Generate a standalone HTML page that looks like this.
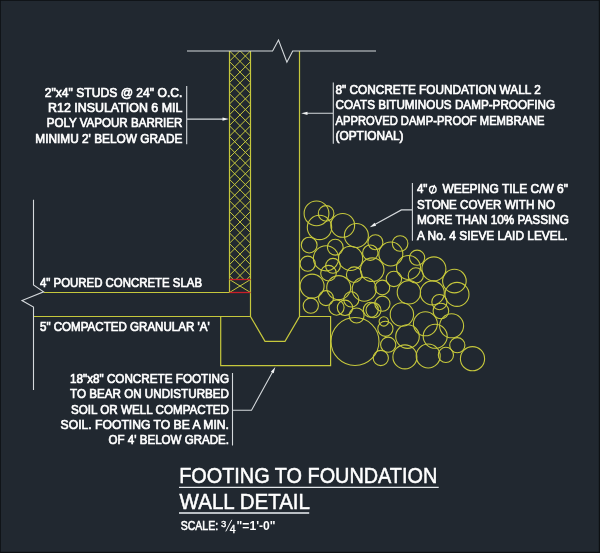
<!DOCTYPE html><html><head><meta charset="utf-8"><title>Footing to Foundation Wall Detail</title>
<style>html,body{margin:0;padding:0;background:#212830;}body{width:600px;height:553px;overflow:hidden;}svg{display:block;will-change:transform;}text{font-family:"Liberation Sans",sans-serif;fill:#ffffff;}</style></head><body>
<svg width="600" height="553" viewBox="0 0 600 553">
<rect x="0" y="0" width="600" height="553" fill="#0d1013"/>
<rect x="0.8" y="0.8" width="598.0" height="551.0" fill="#212830"/>
<defs><clipPath id="hc"><rect x="229.5" y="51" width="21" height="228.5"/></clipPath></defs>
<g clip-path="url(#hc)" stroke="#c6c83c" stroke-width="1" fill="none">
<line x1="224.5" y1="3.07" x2="255.5" y2="34.07"/>
<line x1="224.5" y1="13.78" x2="255.5" y2="44.78"/>
<line x1="224.5" y1="24.48" x2="255.5" y2="55.48"/>
<line x1="224.5" y1="35.19" x2="255.5" y2="66.19"/>
<line x1="224.5" y1="45.89" x2="255.5" y2="76.89"/>
<line x1="224.5" y1="56.60" x2="255.5" y2="87.60"/>
<line x1="224.5" y1="67.31" x2="255.5" y2="98.31"/>
<line x1="224.5" y1="78.01" x2="255.5" y2="109.01"/>
<line x1="224.5" y1="88.72" x2="255.5" y2="119.72"/>
<line x1="224.5" y1="99.42" x2="255.5" y2="130.42"/>
<line x1="224.5" y1="110.13" x2="255.5" y2="141.13"/>
<line x1="224.5" y1="120.84" x2="255.5" y2="151.84"/>
<line x1="224.5" y1="131.54" x2="255.5" y2="162.54"/>
<line x1="224.5" y1="142.25" x2="255.5" y2="173.25"/>
<line x1="224.5" y1="152.95" x2="255.5" y2="183.95"/>
<line x1="224.5" y1="163.66" x2="255.5" y2="194.66"/>
<line x1="224.5" y1="174.37" x2="255.5" y2="205.37"/>
<line x1="224.5" y1="185.07" x2="255.5" y2="216.07"/>
<line x1="224.5" y1="195.78" x2="255.5" y2="226.78"/>
<line x1="224.5" y1="206.48" x2="255.5" y2="237.48"/>
<line x1="224.5" y1="217.19" x2="255.5" y2="248.19"/>
<line x1="224.5" y1="227.90" x2="255.5" y2="258.90"/>
<line x1="224.5" y1="238.60" x2="255.5" y2="269.60"/>
<line x1="224.5" y1="249.31" x2="255.5" y2="280.31"/>
<line x1="224.5" y1="260.01" x2="255.5" y2="291.01"/>
<line x1="224.5" y1="270.72" x2="255.5" y2="301.72"/>
<line x1="224.5" y1="281.43" x2="255.5" y2="312.43"/>
<line x1="224.5" y1="44.78" x2="255.5" y2="13.78"/>
<line x1="224.5" y1="55.48" x2="255.5" y2="24.48"/>
<line x1="224.5" y1="66.19" x2="255.5" y2="35.19"/>
<line x1="224.5" y1="76.89" x2="255.5" y2="45.89"/>
<line x1="224.5" y1="87.60" x2="255.5" y2="56.60"/>
<line x1="224.5" y1="98.31" x2="255.5" y2="67.31"/>
<line x1="224.5" y1="109.01" x2="255.5" y2="78.01"/>
<line x1="224.5" y1="119.72" x2="255.5" y2="88.72"/>
<line x1="224.5" y1="130.42" x2="255.5" y2="99.42"/>
<line x1="224.5" y1="141.13" x2="255.5" y2="110.13"/>
<line x1="224.5" y1="151.84" x2="255.5" y2="120.84"/>
<line x1="224.5" y1="162.54" x2="255.5" y2="131.54"/>
<line x1="224.5" y1="173.25" x2="255.5" y2="142.25"/>
<line x1="224.5" y1="183.95" x2="255.5" y2="152.95"/>
<line x1="224.5" y1="194.66" x2="255.5" y2="163.66"/>
<line x1="224.5" y1="205.37" x2="255.5" y2="174.37"/>
<line x1="224.5" y1="216.07" x2="255.5" y2="185.07"/>
<line x1="224.5" y1="226.78" x2="255.5" y2="195.78"/>
<line x1="224.5" y1="237.48" x2="255.5" y2="206.48"/>
<line x1="224.5" y1="248.19" x2="255.5" y2="217.19"/>
<line x1="224.5" y1="258.90" x2="255.5" y2="227.90"/>
<line x1="224.5" y1="269.60" x2="255.5" y2="238.60"/>
<line x1="224.5" y1="280.31" x2="255.5" y2="249.31"/>
<line x1="224.5" y1="291.01" x2="255.5" y2="260.01"/>
<line x1="224.5" y1="301.72" x2="255.5" y2="270.72"/>
<line x1="224.5" y1="312.43" x2="255.5" y2="281.43"/>
</g>
<g stroke="#c6c83c" stroke-width="1.2" fill="none" stroke-linejoin="miter">
<line x1="229.5" y1="51" x2="229.5" y2="292.5"/>
<path d="M250.5 51 V316.5 L265 341.3 H285 L299.5 316.5 V51"/>
<path d="M43.6 292.5 H229.5"/>
<path d="M33.5 316.5 H250.5"/>
<path d="M220.7 316.5 V365.7 H330.6 V316.5 H299.5"/>
<path d="M229.5 279.5 L250.5 292.5 M250.5 279.5 L229.5 292.5" stroke-width="1"/>
</g>
<g stroke="#c81e28" stroke-width="1.3"><line x1="229.5" y1="279.5" x2="250.5" y2="279.5"/><line x1="229.5" y1="292.5" x2="250.5" y2="292.5"/></g>
<g stroke="#c6c83c" stroke-width="1.1" fill="none">
<circle cx="316.5" cy="213.4" r="12.4"/>
<circle cx="326.1" cy="213.4" r="7.8"/>
<circle cx="319.5" cy="227.4" r="12.2"/>
<circle cx="342.7" cy="225.4" r="11.9"/>
<circle cx="356.4" cy="235.5" r="12.0"/>
<circle cx="309.2" cy="245.1" r="7.9"/>
<circle cx="335.3" cy="247.2" r="7.9"/>
<circle cx="326.0" cy="258.3" r="12.6"/>
<circle cx="350.6" cy="258.4" r="12.1"/>
<circle cx="307.7" cy="263.7" r="7.6"/>
<circle cx="333.0" cy="265.8" r="7.4"/>
<circle cx="328.5" cy="273.2" r="7.8"/>
<circle cx="312.1" cy="286.1" r="12.0"/>
<circle cx="338.7" cy="287.6" r="12.0"/>
<circle cx="354.2" cy="274.7" r="7.8"/>
<circle cx="310.8" cy="305.7" r="7.6"/>
<circle cx="326.0" cy="298.1" r="7.5"/>
<circle cx="336.5" cy="307.6" r="7.6"/>
<circle cx="345.0" cy="307.8" r="7.7"/>
<circle cx="351.3" cy="299.4" r="7.6"/>
<circle cx="375.4" cy="242.2" r="7.5"/>
<circle cx="400.1" cy="243.5" r="7.8"/>
<circle cx="390.8" cy="254.0" r="12.0"/>
<circle cx="370.3" cy="252.7" r="7.7"/>
<circle cx="372.2" cy="269.7" r="11.8"/>
<circle cx="393.9" cy="278.9" r="7.7"/>
<circle cx="408.5" cy="267.5" r="12.0"/>
<circle cx="417.1" cy="257.7" r="7.6"/>
<circle cx="415.8" cy="275.4" r="7.6"/>
<circle cx="382.3" cy="287.5" r="7.4"/>
<circle cx="364.2" cy="289.2" r="12.0"/>
<circle cx="408.9" cy="292.3" r="11.7"/>
<circle cx="401.9" cy="314.5" r="11.7"/>
<circle cx="382.4" cy="303.7" r="7.6"/>
<circle cx="370.8" cy="309.8" r="7.5"/>
<circle cx="373.5" cy="310.3" r="7.5"/>
<circle cx="356.6" cy="315.5" r="7.5"/>
<circle cx="433.9" cy="268.9" r="12.0"/>
<circle cx="454.4" cy="281.1" r="11.8"/>
<circle cx="432.3" cy="292.9" r="12.0"/>
<circle cx="457.0" cy="294.4" r="12.0"/>
<circle cx="439.4" cy="302.1" r="7.6"/>
<circle cx="440.9" cy="311.0" r="7.8"/>
<circle cx="451.6" cy="325.8" r="12.0"/>
<circle cx="425.4" cy="323.8" r="12.0"/>
<circle cx="435.2" cy="336.3" r="12.0"/>
<circle cx="457.3" cy="345.2" r="7.6"/>
<circle cx="445.9" cy="354.9" r="7.6"/>
<circle cx="472.5" cy="358.7" r="12.1"/>
<circle cx="428.2" cy="356.0" r="12.0"/>
<circle cx="407.5" cy="336.6" r="11.8"/>
<circle cx="404.9" cy="356.9" r="12.0"/>
<circle cx="385.4" cy="328.8" r="7.6"/>
<circle cx="383.8" cy="321.4" r="4.7"/>
<circle cx="388.2" cy="344.7" r="7.6"/>
<circle cx="380.8" cy="358.0" r="7.6"/>
<circle cx="355.0" cy="341.5" r="24.0"/>
</g>
<g stroke="#d5d9dc" stroke-width="1.1" fill="none">
<path d="M187 51 H272.6 L278.5 40 L286.9 62.2 L292.7 51 H376"/>
<path d="M33.5 199.8 V285 L43.6 291.8 L22 300.6 L33.5 307 V390"/>
<path d="M186.7 86 V144.2 M186.7 119.1 H224"/>
<path d="M333.3 82.5 V143.8 M333.3 113.3 H306"/>
<path d="M412.4 183 V240.8 M412.4 209.9 H401.4 L373 225.6"/>
<path d="M232.5 373 V445.4 M232.5 410.2 H251.5 L273.5 370.2"/>
</g>
<polygon points="228.80,119.10 222.50,120.70 222.50,117.50" fill="#f0f2f3"/>
<polygon points="301.20,113.30 307.50,111.70 307.50,114.90" fill="#f0f2f3"/>
<polygon points="369.80,227.30 374.55,222.86 376.09,225.66" fill="#f0f2f3"/>
<polygon points="275.30,367.00 273.66,373.29 270.86,371.75" fill="#f0f2f3"/>
<g>
<text x="44.7" y="96.6" font-size="12.9" textLength="137.7" lengthAdjust="spacingAndGlyphs" stroke="#ffffff" stroke-width="0.7">2&quot;x4&quot; STUDS @ 24&quot; O.C.</text>
<text x="48.0" y="111.8" font-size="12.9" textLength="134.4" lengthAdjust="spacingAndGlyphs" stroke="#ffffff" stroke-width="0.7">R12 INSULATION 6 MIL</text>
<text x="46.7" y="127.2" font-size="12.9" textLength="135.7" lengthAdjust="spacingAndGlyphs" stroke="#ffffff" stroke-width="0.7">POLY VAPOUR BARRIER</text>
<text x="35.3" y="142.6" font-size="12.9" textLength="147.1" lengthAdjust="spacingAndGlyphs" stroke="#ffffff" stroke-width="0.7">MINIMU 2&#39; BELOW GRADE</text>
<text x="335.5" y="93.8" font-size="12.9" textLength="205.2" lengthAdjust="spacingAndGlyphs" stroke="#ffffff" stroke-width="0.7">8&quot; CONCRETE FOUNDATION WALL 2</text>
<text x="335.5" y="109.3" font-size="12.9" textLength="219.5" lengthAdjust="spacingAndGlyphs" stroke="#ffffff" stroke-width="0.7">COATS BITUMINOUS DAMP-PROOFING</text>
<text x="335.5" y="124.6" font-size="12.9" textLength="209.0" lengthAdjust="spacingAndGlyphs" stroke="#ffffff" stroke-width="0.7">APPROVED DAMP-PROOF MEMBRANE</text>
<text x="335.5" y="139.8" font-size="12.9" textLength="68.0" lengthAdjust="spacingAndGlyphs" stroke="#ffffff" stroke-width="0.7">(OPTIONAL)</text>
<text x="416.9" y="193.2" font-size="12.9" textLength="10.5" lengthAdjust="spacingAndGlyphs" stroke="#ffffff" stroke-width="0.7">4&quot;</text>
<ellipse cx="432.8" cy="189.6" rx="3.3" ry="3.4" fill="none" stroke="#fff" stroke-width="1.45"/><line x1="434.6" y1="184.9" x2="431.2" y2="194" stroke="#fff" stroke-width="1.2"/>
<text x="442.4" y="193.2" font-size="12.9" textLength="125.6" lengthAdjust="spacingAndGlyphs" stroke="#ffffff" stroke-width="0.7">WEEPING TILE C/W 6&quot;</text>
<text x="417.0" y="208.8" font-size="12.9" textLength="138.0" lengthAdjust="spacingAndGlyphs" stroke="#ffffff" stroke-width="0.7">STONE COVER WITH NO</text>
<text x="417.0" y="224.1" font-size="12.9" textLength="152.0" lengthAdjust="spacingAndGlyphs" stroke="#ffffff" stroke-width="0.7">MORE THAN 10% PASSING</text>
<text x="417.0" y="240.2" font-size="12.9" textLength="150.6" lengthAdjust="spacingAndGlyphs" stroke="#ffffff" stroke-width="0.7">A No. 4 SIEVE LAID LEVEL.</text>
<text x="40.0" y="286.5" font-size="12.9" textLength="162.0" lengthAdjust="spacingAndGlyphs" stroke="#ffffff" stroke-width="0.7">4&quot; POURED CONCRETE SLAB</text>
<text x="40.0" y="331.0" font-size="12.9" textLength="169.7" lengthAdjust="spacingAndGlyphs" stroke="#ffffff" stroke-width="0.7">5&quot; COMPACTED GRANULAR &#39;A&#39;</text>
<text x="70.0" y="383.0" font-size="12.9" textLength="159.0" lengthAdjust="spacingAndGlyphs" stroke="#ffffff" stroke-width="0.7">18&quot;x8&quot; CONCRETE FOOTING</text>
<text x="70.0" y="398.4" font-size="12.9" textLength="159.0" lengthAdjust="spacingAndGlyphs" stroke="#ffffff" stroke-width="0.7">TO BEAR ON UNDISTURBED</text>
<text x="71.0" y="413.8" font-size="12.9" textLength="158.0" lengthAdjust="spacingAndGlyphs" stroke="#ffffff" stroke-width="0.7">SOIL OR WELL COMPACTED</text>
<text x="60.6" y="429.2" font-size="12.9" textLength="168.4" lengthAdjust="spacingAndGlyphs" stroke="#ffffff" stroke-width="0.7">SOIL. FOOTING TO BE A MIN.</text>
<text x="108.6" y="444.4" font-size="12.9" textLength="120.4" lengthAdjust="spacingAndGlyphs" stroke="#ffffff" stroke-width="0.7">OF 4&#39; BELOW GRADE.</text>
<text x="179.2" y="482.8" font-size="21.8" textLength="258.1" lengthAdjust="spacingAndGlyphs" stroke="#fff" stroke-width="0.5">FOOTING TO FOUNDATION</text>
<text x="179.6" y="508.6" font-size="21.8" textLength="130.4" lengthAdjust="spacingAndGlyphs" stroke="#fff" stroke-width="0.5">WALL DETAIL</text>
<text x="180.7" y="530.3" font-size="13.0" textLength="37.5" lengthAdjust="spacingAndGlyphs" stroke="#fff" stroke-width="0.6">SCALE:</text>
<text x="220.9" y="526.6" font-size="9.9" textLength="5.3" lengthAdjust="spacingAndGlyphs" stroke="#fff" stroke-width="0.35">3</text>
<text x="229.7" y="533.2" font-size="10.2" textLength="5.8" lengthAdjust="spacingAndGlyphs" stroke="#fff" stroke-width="0.35">4</text>
<line x1="231.8" y1="519.8" x2="225.8" y2="531.4" stroke="#fff" stroke-width="1"/>
<text x="236.6" y="530.3" font-size="13.0" textLength="39.0" lengthAdjust="spacingAndGlyphs" font-weight="bold">&quot;=1&#39;-0&quot;</text>
</g>
<line x1="179" y1="487.45" x2="438.7" y2="487.45" stroke="#e4e7ea" stroke-width="1.2"/>
<line x1="179" y1="513" x2="309.2" y2="513" stroke="#b9bec3" stroke-width="1.9"/>
</svg></body></html>
